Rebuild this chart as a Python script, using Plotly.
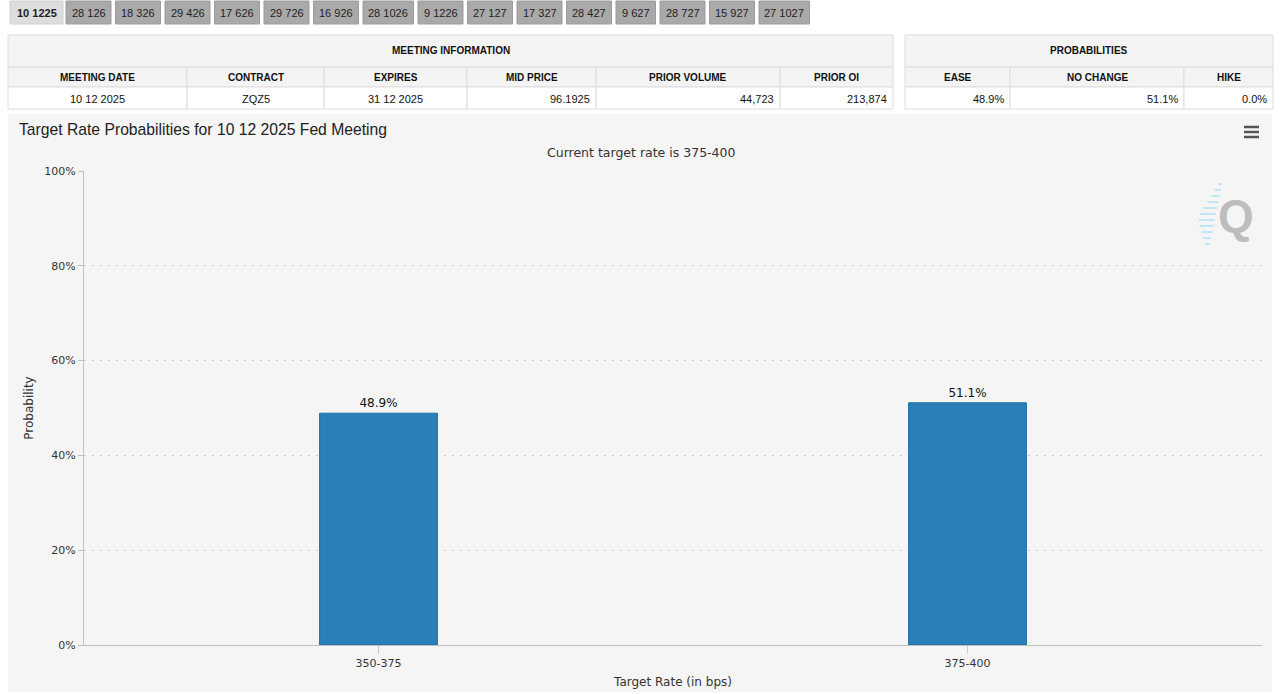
import plotly.graph_objects as go

W, H = 1280, 694

# ---------------- data ----------------
tab_labels = ["10 1225", "28 126", "18 326", "29 426", "17 626", "29 726", "16 926", "28 1026",
              "9 1226", "27 127", "17 327", "28 427", "9 627", "28 727", "15 927", "27 1027"]
active_tab = "10 1225"

meeting_title = "MEETING INFORMATION"
meeting_headers = ["MEETING DATE", "CONTRACT", "EXPIRES", "MID PRICE", "PRIOR VOLUME", "PRIOR OI"]
meeting_values = ["10 12 2025", "ZQZ5", "31 12 2025", "96.1925", "44,723", "213,874"]
meeting_align = ["center", "center", "center", "right", "right", "right"]

prob_title = "PROBABILITIES"
prob_headers = ["EASE", "NO CHANGE", "HIKE"]
prob_values = ["48.9%", "51.1%", "0.0%"]
prob_align = ["right", "right", "right"]

target_rates = ["350-375", "375-400"]
probabilities = [48.9, 51.1]
current_target = "375-400"
meeting_date = "10 12 2025"
y_ticks = [0, 20, 40, 60, 80, 100]

# ---------------- layout constants (pixels) ----------------
meeting_col_edges = [8, 187, 324, 467, 596, 780, 893]
prob_col_edges = [905, 1010, 1184, 1273]
row_edges = [35, 67, 87, 109]

def px_x(x):
    return x / W

def px_y(y):
    return 1 - y / H

shapes = []
annotations = []
TABLE_FONT = "Liberation Sans, Arial"

# tabs
x = 10
for lab in tab_labels:
    act = lab == active_tab
    w = 53 if act else 5.5 * len(lab) + 12
    shapes.append(dict(type="rect", xref="paper", yref="paper",
                       x0=px_x(x), x1=px_x(x + w), y0=px_y(24), y1=px_y(1),
                       fillcolor="#dddddd" if act else "#a9a9a9",
                       line=dict(color="#d0d0d0" if act else "#9c9c9c", width=1)))
    annotations.append(dict(xref="paper", yref="paper", x=px_x(x + w / 2), y=px_y(12.5),
                            text=("<b>%s</b>" % lab) if act else lab,
                            showarrow=False, xanchor="center", yanchor="middle",
                            font=dict(family=TABLE_FONT, size=11, color="#222")))
    x += w + (3 if act else 4.5)

# tables
def draw_table(edges, title, headers, values, aligns):
    r0, r1, r2, r3 = row_edges
    shapes.append(dict(type="rect", xref="paper", yref="paper",
                       x0=px_x(edges[0]), x1=px_x(edges[-1]), y0=px_y(r1), y1=px_y(r0),
                       fillcolor="#f4f4f4", line=dict(color="#dddddd", width=1)))
    annotations.append(dict(xref="paper", yref="paper",
                            x=px_x((edges[0] + edges[-1]) / 2), y=px_y((r0 + r1) / 2),
                            text="<b>%s</b>" % title, showarrow=False,
                            xanchor="center", yanchor="middle",
                            font=dict(family=TABLE_FONT, size=10, color="#111")))
    for i, (h, v, a) in enumerate(zip(headers, values, aligns)):
        c0, c1 = edges[i], edges[i + 1]
        shapes.append(dict(type="rect", xref="paper", yref="paper",
                           x0=px_x(c0), x1=px_x(c1), y0=px_y(r2), y1=px_y(r1),
                           fillcolor="#f4f4f4", line=dict(color="#dddddd", width=1)))
        shapes.append(dict(type="rect", xref="paper", yref="paper",
                           x0=px_x(c0), x1=px_x(c1), y0=px_y(r3), y1=px_y(r2),
                           fillcolor="#ffffff", line=dict(color="#dddddd", width=1)))
        annotations.append(dict(xref="paper", yref="paper",
                                x=px_x((c0 + c1) / 2), y=px_y((r1 + r2) / 2),
                                text="<b>%s</b>" % h, showarrow=False,
                                xanchor="center", yanchor="middle",
                                font=dict(family=TABLE_FONT, size=10, color="#111")))
        if a == "right":
            ax, anc = c1 - 4, "right"
        else:
            ax, anc = (c0 + c1) / 2, "center"
        annotations.append(dict(xref="paper", yref="paper",
                                x=px_x(ax), y=px_y((r2 + r3) / 2 + 0.5),
                                text=v, showarrow=False,
                                xanchor=anc, yanchor="middle",
                                font=dict(family=TABLE_FONT, size=11, color="#111")))

draw_table(meeting_col_edges, meeting_title, meeting_headers, meeting_values, meeting_align)
draw_table(prob_col_edges, prob_title, prob_headers, prob_values, prob_align)

# chart panel background
shapes.append(dict(type="rect", xref="paper", yref="paper", layer="below",
                   x0=px_x(8), x1=px_x(1272), y0=px_y(692), y1=px_y(114),
                   fillcolor="#f5f5f5", line=dict(width=0)))

# hamburger menu
for yy in [127, 132, 137]:
    shapes.append(dict(type="line", xref="paper", yref="paper",
                       x0=px_x(1244), x1=px_x(1259), y0=px_y(yy), y1=px_y(yy),
                       line=dict(color="#555555", width=2.5)))

# logo
for i, (yy, ln) in enumerate([(184, 4), (190, 6), (196, 8), (202, 11), (208, 14), (214, 16),
                              (220, 16), (226, 14), (232, 11), (238, 8), (244, 5)]):
    xr = 1222 - i * 1.2
    shapes.append(dict(type="line", xref="paper", yref="paper",
                       x0=px_x(xr - ln), x1=px_x(xr), y0=px_y(yy), y1=px_y(yy),
                       line=dict(color="#bfe6f5", width=2)))
annotations.append(dict(xref="paper", yref="paper", x=px_x(1236), y=px_y(216),
                        text="<b>Q</b>", showarrow=False, xanchor="center", yanchor="middle",
                        font=dict(family=TABLE_FONT, size=46, color="#bdbdbd")))

# titles
annotations.append(dict(xref="paper", yref="paper", x=px_x(17), y=px_y(129),
                        text="Target Rate Probabilities for %s Fed Meeting" % meeting_date,
                        showarrow=False, xanchor="left", yanchor="middle",
                        font=dict(family=TABLE_FONT, size=15.7, color="#222")))
annotations.append(dict(xref="paper", yref="paper", x=px_x(641), y=px_y(152),
                        text="Current target rate is %s" % current_target,
                        showarrow=False, xanchor="center", yanchor="middle",
                        font=dict(family="DejaVu Sans", size=12.5, color="#333")))

fig = go.Figure()

fig.add_trace(go.Bar(
    x=target_rates, y=probabilities, width=0.2,
    marker=dict(color="#2a7fb8", line=dict(color="#1f6ea3", width=1)),
    text=["%.1f%%" % p for p in probabilities], textposition="outside",
    textfont=dict(family="DejaVu Sans", size=12, color="#111"),
    cliponaxis=False, hoverinfo="skip",
))

fig.update_layout(
    width=W, height=H, margin=dict(l=0, r=0, t=0, b=0, pad=0, autoexpand=False),
    paper_bgcolor="#ffffff", plot_bgcolor="rgba(0,0,0,0)",
    showlegend=False, shapes=shapes, annotations=annotations,
    xaxis=dict(domain=[px_x(84), px_x(1262)], range=[-0.5, 1.5], type="category",
               automargin=False,
               showline=True, linecolor="#c0c0c0", linewidth=1,
               ticks="outside", ticklen=8, tickcolor="#cccccc",
               tickfont=dict(family="DejaVu Sans", size=11, color="#333"),
               title=dict(text="Target Rate (in bps)", standoff=8,
                          font=dict(family="DejaVu Sans", size=12, color="#333")),
               showgrid=False, fixedrange=True),
    yaxis=dict(domain=[px_y(645), px_y(171)], range=[0, 100], tickmode="array",
               automargin=False,
               tickvals=y_ticks, ticktext=["%d%%" % v for v in y_ticks],
               showline=True, linecolor="#c0c0c0", linewidth=1,
               ticks="outside", ticklen=5, tickcolor="#c0c0c0",
               showgrid=True, gridcolor="#cccccc", griddash="2px,6px", gridwidth=1,
               zeroline=False,
               tickfont=dict(family="DejaVu Sans", size=11, color="#333"),
               title=dict(text="Probability", standoff=8,
                          font=dict(family="DejaVu Sans", size=12, color="#333")),
               fixedrange=True),
)

fig.write_html(
    "out.html", config=dict(displayModeBar=False),
    post_script=("document.documentElement.style.overflow='hidden';"
                 "document.body.style.margin='0';document.body.style.padding='0';"
                 "document.body.style.overflow='hidden';"
                 "var d=document.getElementById('{plot_id}');"
                 "d.style.position='fixed';d.style.top='0';d.style.left='0';"))
